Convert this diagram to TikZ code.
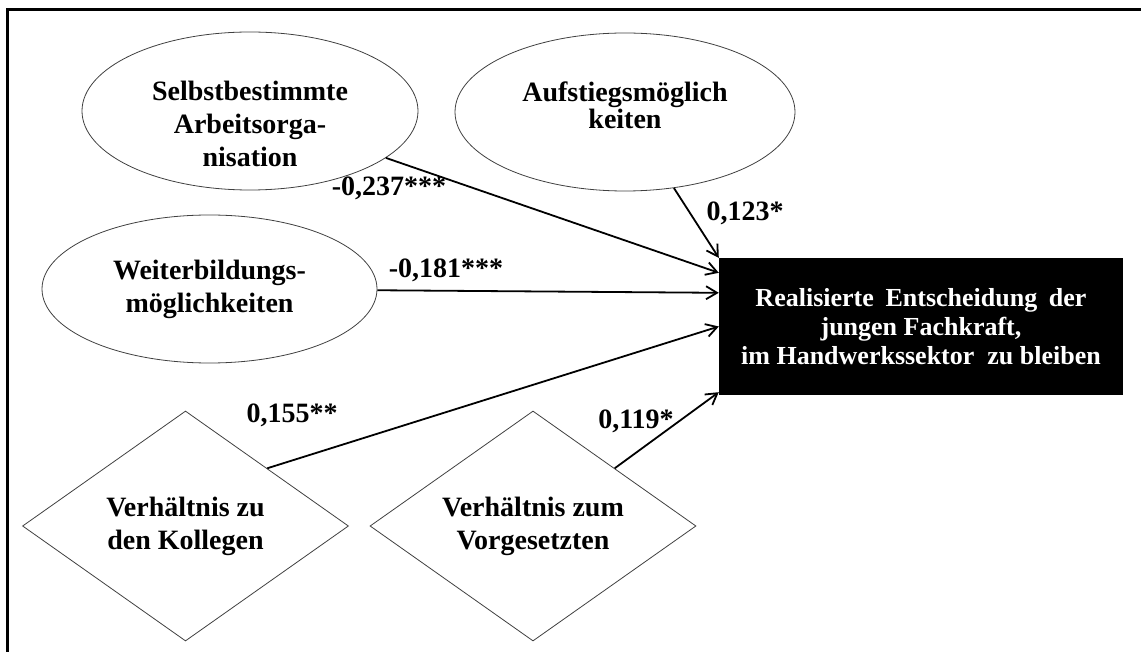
\documentclass[tikz,border=0pt]{standalone}
\usepackage{fontspec}
\setmainfont{Liberation Serif}
\usetikzlibrary{calc}
\usetikzlibrary{shapes.geometric}
\usetikzlibrary{arrows.meta}
\usetikzlibrary{positioning}
\tikzset{
% Two node styles for the model: oval and rhomb
oval node/.style={ellipse,draw=black!75,line width=0.8,inner sep=0},
rhomb node/.style={diamond,aspect=1.4,draw=black!75,line width=0.8,inner sep=0,minimum width=326,minimum height=230,align=center}
}

\begin{document}
\begin{tikzpicture}[x=1pt,y=-1pt,font=\fontsize{28}{33}\selectfont\bfseries]
		% Arrow and target styles
		\tikzstyle{path arrow}=[line width=1.8,-{Straight Barb[length=11pt,width=13pt]}];
		\tikzstyle{target node}=[rectangle,fill=black,text=white,inner sep=0,minimum width=404,minimum height=137,align=center,font=\fontsize{26}{29}\selectfont\bfseries];
		\useasboundingbox (0,0) rectangle (1141,652);
		% frame (open to the right and bottom)
		\draw[line width=2.5] (7.5,652) -- (7.5,9.5) -- (1141,9.5);
		% The ovals
		\node(selbst)[oval node,minimum width=336,minimum height=158] at (250,111) {};
		\node(selbst text)[align=center] at (250,124) {Selbstbestimmte\\Arbeitsorga-\\nisation};
		\node(aufstieg)[oval node,minimum width=340,minimum height=158] at (625,112) {};
		\node(aufstieg text)[align=center,font=\fontsize{28}{25}\selectfont\bfseries] at (625,105) {Aufstiegsmöglich\\keiten};
		\node(weiter)[oval node,minimum width=335,minimum height=148,align=center] at (209.5,289) {Weiterbildungs-\\möglichkeiten};
		% The rhombs
		\node(koll)[rhomb node] at (185.5,526) {Verhältnis zu\\den Kollegen};
		\node(vorg)[rhomb node] at (533,526) {Verhältnis zum\\Vorgesetzten};
		% The target
		\node(ziel)[target node] at (921,326.5) {Realisierte\hspace{.45em}Entscheidung\hspace{.45em}der\\jungen Fachkraft,\\im Handwerkssektor\ \ zu bleiben};
		% paths
		\draw[path arrow] (selbst) -- ($(ziel.north west)+(0,15)$);
		\draw[path arrow] (aufstieg) -- (ziel.north west);
		\draw[path arrow] (weiter) -- ($(ziel.north west)+(0,35)$);
		\draw[path arrow] (koll.north east) -- (ziel.west);
		\draw[path arrow] (vorg.north east) -- ($(ziel.south west)+(0,-3)$);
		% coefficients
		\node(w1) at (389,188) {-0,237***};
		\node(w2) at (745,213) {0,123*};
		\node(w3) at (446,270) {-0,181***};
		\node(w4) at (292,415) {0,155**};
		\node(w5) at (636,421) {0,119*};
	\end{tikzpicture}
\end{document}
